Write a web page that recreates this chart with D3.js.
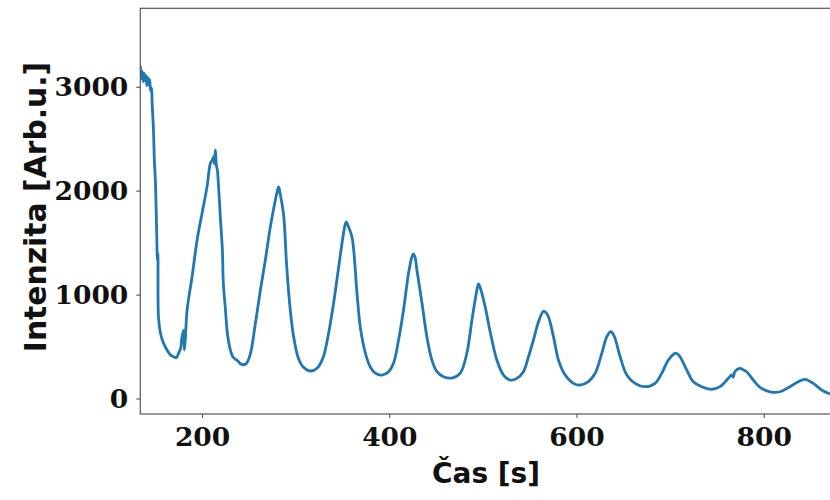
<!DOCTYPE html>
<html>
<head>
<meta charset="utf-8">
<script src="https://cdn.jsdelivr.net/npm/d3@7"></script>
<style>
  html, body { margin: 0; padding: 0; background: #fff; }
  svg { display: block; }
</style>
</head>
<body>
<svg id="chart" width="830" height="500"></svg>
<script>
// Data
const timeS = [
  134.1,135,136,137,138,139,140,141,142,143,144,145,146,146.6,148,149,150.2,151.5,152.3,152.8,153.4,155.5,158.7,163,166.2,169.7,172.5,175,177,178.6,180.4,181,182,184,189.3,194.7,200,205.3,208.9,211,212.4,213.2,214.2,215.2,216.3,217.4,219.5,221.7,222.7,225,227,230.2,233,237.7,241,244.1,247.5,251.6,256.9,262.3,267.6,272.9,278.3,280.5,281.8,283,287.1,290,293.2,297.5,302.8,308.1,315.6,323.1,329.5,334.8,340.2,345.5,350.8,353,354.1,356,360.1,365.5,369,374.4,379.7,385,392.2,399.2,404.6,409.9,415.2,420.6,424.2,425.8,427.5,429.5,434.9,440.2,445.5,450.9,457.9,466.9,475.8,482.9,488.3,493.6,495.3,497,502.4,507.8,514.9,522,529.1,536.3,543.3,548.7,554,559.4,564.7,567,570,575.4,580.7,587.9,596.7,603.9,612.7,619.9,627,632.4,636.6,638.5,641.2,646.6,653.7,662.6,673.3,683.9,691.1,698.1,705.3,707.5,710.6,717.8,724.8,733.8,744.5,753.3,762.2,766,767.5,769.3,774.7,776.5,781.8,788.9,796,806.7,817.4,828.1,836.9,844.1,852.9,861.9,870.8
];
const intensity = [
  3200,3080,3150,3050,3130,3060,3110,3010,3090,3020,3070,2960,2990,2850,2600,2300,2074,1600,1330,1400,784,630,534,460,420,402,392,440,480,595,659,467,560,852,1172,1526,1783,2039,2264,2296,2327,2260,2392,2250,2200,2074,1747,1429,1112,850,630,467,400,365,335,325,340,430,720,1044,1333,1651,1911,2000,2036,1990,1766,1333,948,611,390,303,265,294,400,611,900,1237,1574,1680,1699,1660,1557,1015,688,438,303,245,226,258,342,563,852,1208,1365,1391,1360,1237,919,592,371,258,210,197,245,438,756,1044,1103,1070,884,640,371,226,178,194,258,402,563,739,840,830,787,595,371,226,146,130,162,243,435,595,643,630,579,402,226,146,114,146,243,371,435,432,402,274,162,114,89,114,194,228,205,262,291,285,258,178,108,65,65,114,162,185,146,82,43
];
const xTicks = [200, 400, 600, 800];
const yTicks = [0, 1000, 2000, 3000];
const xLabel = "Čas [s]";
const yLabel = "Intenzita [Arb.u.]";

const svg = d3.select("#chart");
const pLeft = 140.3, pTop = 8.3, pBottom = 414, pRight = 838.6;

const x = d3.scaleLinear().domain([134, 880]).range([pLeft, pRight]);
const y = d3.scaleLinear().domain([-149, 3755]).range([pBottom, pTop]);

svg.append("defs").append("clipPath").attr("id", "clip")
  .append("rect").attr("x", pLeft).attr("y", pTop)
  .attr("width", pRight - pLeft).attr("height", pBottom - pTop);

const pts = timeS.map((t, i) => [t, intensity[i]]);
const line = d3.line().x(d => x(d[0])).y(d => y(d[1])).curve(d3.curveCatmullRom.alpha(0.5));

svg.append("path")
  .datum(pts)
  .attr("clip-path", "url(#clip)")
  .attr("fill", "none")
  .attr("stroke", "#1f77b4")
  .attr("stroke-width", 2.8)
  .attr("stroke-linejoin", "round")
  .attr("d", line);

// axes
const tickFont = "'DejaVu Serif', serif";
const xAxis = svg.append("g").attr("transform", `translate(0,${pBottom})`)
  .call(d3.axisBottom(x).tickValues(xTicks).tickSize(4).tickSizeOuter(0).tickPadding(9).tickFormat(d3.format("d")));
const yAxis = svg.append("g").attr("transform", `translate(${pLeft},0)`)
  .call(d3.axisLeft(y).tickValues(yTicks).tickSize(4).tickSizeOuter(0).tickPadding(8).tickFormat(d3.format("d")));
[xAxis, yAxis].forEach(g => {
  g.select(".domain").remove();
  g.selectAll(".tick line").attr("stroke", "#444").attr("stroke-width", 1);
  g.selectAll(".tick text")
    .attr("fill", "#111")
    .style("font-family", tickFont)
    .style("font-weight", "bold")
    .style("font-size", "26.5px");
});

// spines
svg.append("rect")
  .attr("x", pLeft).attr("y", pTop)
  .attr("width", pRight - pLeft).attr("height", pBottom - pTop)
  .attr("fill", "none").attr("stroke", "#555").attr("stroke-width", 1.2);

// labels
svg.append("text")
  .attr("x", 486).attr("y", 483)
  .attr("text-anchor", "middle")
  .style("font-family", "'DejaVu Sans', sans-serif")
  .style("font-weight", "bold")
  .style("font-size", "28px")
  .attr("fill", "#111")
  .text(xLabel);

svg.append("text")
  .attr("transform", "translate(46,207) rotate(-90)")
  .attr("text-anchor", "middle")
  .style("font-family", "'DejaVu Sans', sans-serif")
  .style("font-weight", "bold")
  .style("font-size", "29.8px")
  .attr("fill", "#111")
  .text(yLabel);
</script>
</body>
</html>
